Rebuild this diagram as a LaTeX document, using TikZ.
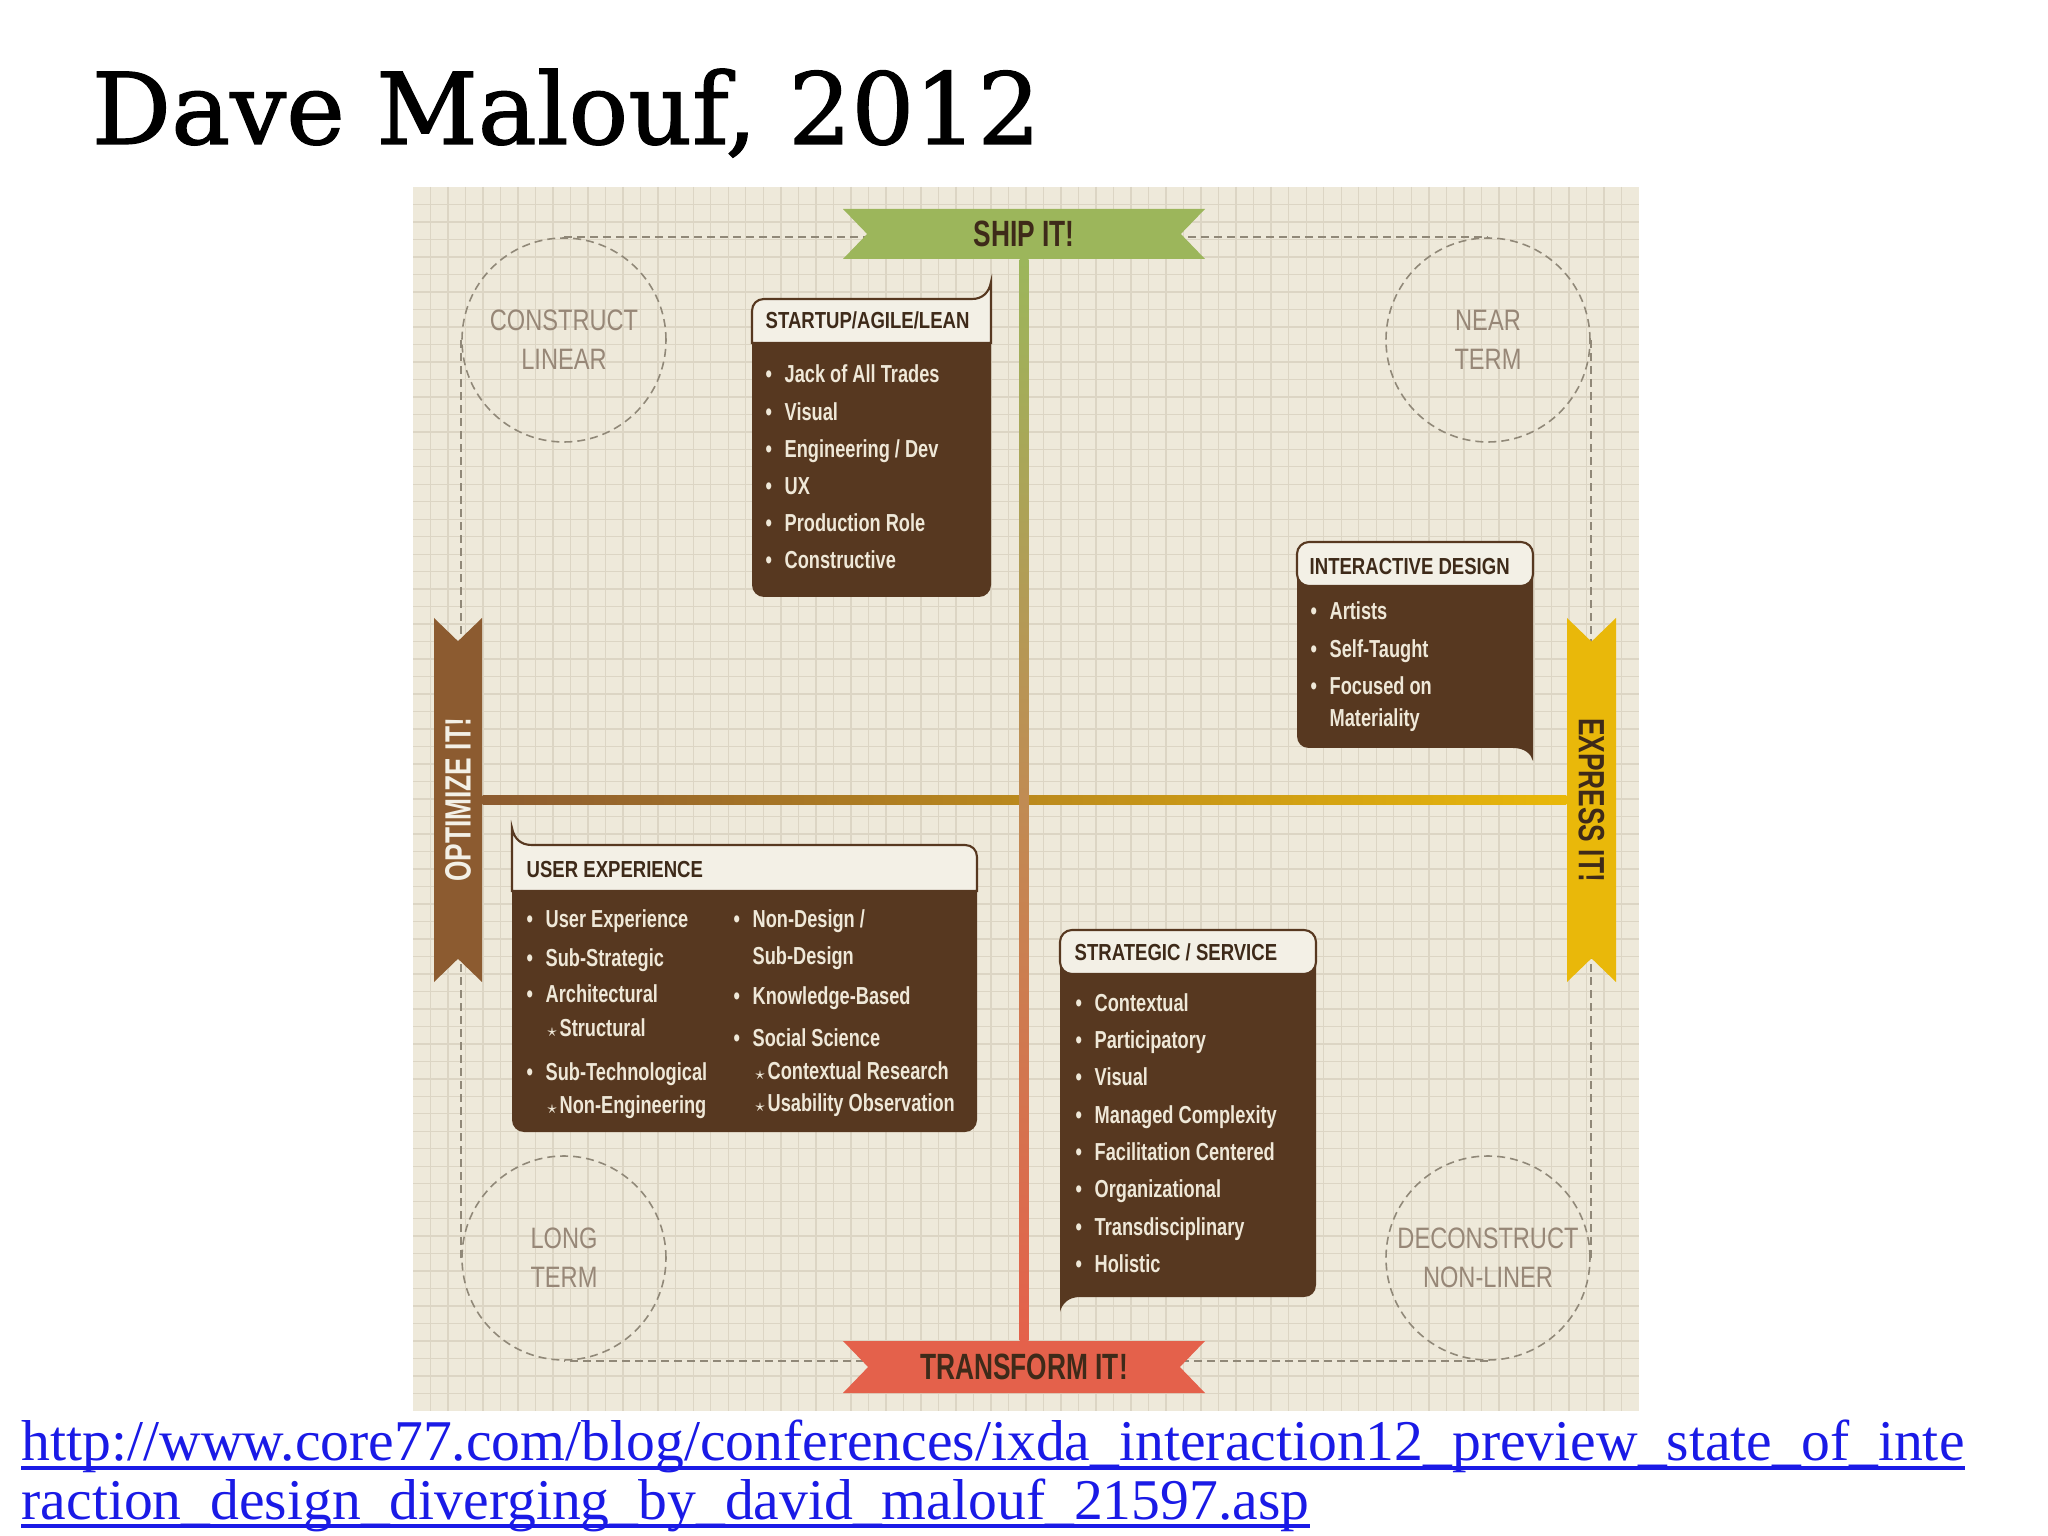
\documentclass[tikz,border=0pt]{standalone}
\usepackage{fontspec}
\setmainfont{Liberation Sans}
\newfontfamily\condfont[FakeStretch=0.8]{Liberation Sans}
\newfontfamily\itemfont[FakeStretch=0.74]{Liberation Sans}
\newfontfamily\bannerfont[FakeStretch=0.72]{Liberation Sans}
\newfontfamily\titlefont[FakeBold=1.2]{DejaVu Serif}
\newfontfamily\urlfont{Liberation Serif}
\usetikzlibrary{shapes.symbols,calc}

\definecolor{paper}{HTML}{EEE9DA}
\definecolor{gridc}{HTML}{DCD5C4}
\definecolor{shipgreen}{HTML}{9CB65B}
\definecolor{optbrown}{HTML}{8C5B30}
\definecolor{expyellow}{HTML}{E9B80A}
\definecolor{xformred}{HTML}{E4614B}
\definecolor{boxbrown}{HTML}{573820}
\definecolor{headcream}{HTML}{F3F0E6}
\definecolor{inkbrown}{HTML}{3E2A19}
\definecolor{ringtext}{HTML}{978777}
\definecolor{dashgrey}{HTML}{908878}
\definecolor{itemcream}{HTML}{EFE8D8}
\definecolor{urlblue}{HTML}{1A1AE6}

\newcommand\bl{\makebox[0.19cm][l]{\textbullet}}
\newcommand\st{\makebox[0.14cm][l]{$\scriptstyle\star$}}

\begin{document}
\begin{tikzpicture}[x=1cm, y=-1cm,
  gridline/.style={draw=gridc, line width=0.4pt},
  dashline/.style={draw=dashgrey, line width=0.45pt, dash pattern=on 0.08cm off 0.05cm},
  ring/.style={circle, dashline, minimum size=2.04cm, inner sep=0pt, align=center,
    text=ringtext, font=\condfont\fontsize{8.4}{11.1}\selectfont},
  banner/.style={signal, signal from=west and east, signal to=nowhere, signal pointer angle=92,
    inner sep=0pt, text=inkbrown, font=\bannerfont\bfseries\fontsize{10.4}{12}\selectfont},
  boxhead/.style={fill=headcream, draw=boxbrown, line width=0.6pt},
  headtext/.style={anchor=base west, inner sep=0pt, text=inkbrown,
    font=\condfont\bfseries\fontsize{6.6}{7}\selectfont},
  item/.style={anchor=base west, inner sep=0pt, text=itemcream,
    font=\itemfont\bfseries\fontsize{7}{8}\selectfont},
  link/.style={anchor=base west, inner sep=0pt, text=urlblue,
    font=\urlfont\fontsize{16.4}{18}\selectfont}]

  \fill[white] (0,0) rectangle (20.48,15.36);
  \useasboundingbox (0,0) rectangle (20.48,15.36);

  % paper with grid
  \fill[paper] (4.13,1.87) rectangle (16.39,14.11);
  \foreach \k in {1,...,69} {
    \draw[gridline] (4.13+0.17514*\k,1.87) -- (4.13+0.17514*\k,14.11);
    \draw[gridline] (4.13,1.87+0.17486*\k) -- (16.39,1.87+0.17486*\k);
  }

  % corner rings
  \node[ring] (cl) at (5.64,3.40) {CONSTRUCT\\LINEAR};
  \node[ring] (nt) at (14.88,3.40) {NEAR\\TERM};
  \node[ring] (lt) at (5.64,12.58) {LONG\\TERM};
  \node[ring] (dn) at (14.88,12.58) {DECONSTRUCT\\NON-LINER};
  \draw[dashline] (cl.north) -- (nt.north);
  \draw[dashline] (nt.east) -- (dn.east);
  \draw[dashline] (dn.south) -- (lt.south);
  \draw[dashline] (lt.west) -- (cl.west);

  % banners
  \node[banner, fill=shipgreen, minimum width=3.62cm, minimum height=0.50cm] (ship) at (10.24,2.34) {SHIP IT!};
  \node[banner, fill=xformred, minimum width=3.62cm, minimum height=0.52cm] (xform) at (10.24,13.67) {TRANSFORM IT!};
  \node[banner, fill=optbrown, text=headcream, rotate=90, minimum width=3.64cm, minimum height=0.48cm] (opt) at (4.58,8.00) {OPTIMIZE IT!};
  \node[banner, fill=expyellow, rotate=-90, minimum width=3.64cm, minimum height=0.49cm] (exp) at (15.915,8.00) {EXPRESS IT!};

  % axes
  \shade[left color=optbrown, middle color=black!15!expyellow!85!optbrown, right color=expyellow]
    ($(opt.south)+(0,-0.045)$) rectangle ($(exp.south)+(0,0.045)$);
  \shade[top color=shipgreen, middle color=black!5!orange!55!optbrown, bottom color=xformred]
    ($(ship.south)+(-0.045,0)$) rectangle ($(xform.north)+(0.045,0)$);

  % startup / agile / lean
  \fill[boxbrown, rounded corners=0.12cm] (7.52,3.30) rectangle (9.91,5.97);
  \draw[boxhead] (7.52,3.43) -- (7.52,3.11) .. controls (7.52,3.04) and (7.57,2.99) .. (7.64,2.99)
    -- (9.72,2.99) .. controls (9.82,2.99) and (9.89,2.93) .. (9.91,2.82) -- (9.91,3.43) -- cycle;
  \node[headtext] (sutitle) at (7.65,3.29) {STARTUP/AGILE/LEAN};
  \foreach \t [count=\i] in {Jack of All Trades, Visual, Engineering / Dev, UX, Production Role, Constructive}
    \node[item] (su\i) at (7.65,{3.83+0.372*(\i-1)}) {\bl\t};

  % interactive design
  \fill[boxbrown] (12.97,5.70) -- (12.97,7.36) .. controls (12.97,7.43) and (13.02,7.48) .. (13.09,7.48)
    -- (15.13,7.48) .. controls (15.25,7.48) and (15.31,7.54) .. (15.33,7.61) -- (15.33,5.70) -- cycle;
  \draw[boxhead, rounded corners=0.12cm] (12.97,5.42) rectangle (15.33,5.86);
  \node[headtext] (idtitle) at (13.09,5.74) {INTERACTIVE DESIGN};
  \node[item] (id1) at (13.10,6.20) {\bl Artists};
  \node[item] (id2) at (13.10,6.57) {\bl Self-Taught};
  \node[item] (id3) at (13.10,6.95) {\bl Focused on};
  \node[item] (id4) at (13.29,7.26) {Materiality};

  % user experience
  \fill[boxbrown, rounded corners=0.12cm] (5.12,8.75) rectangle (9.77,11.32);
  \draw[boxhead] (5.12,8.91) -- (5.12,8.28) .. controls (5.14,8.38) and (5.20,8.45) .. (5.32,8.45)
    -- (9.65,8.45) .. controls (9.72,8.45) and (9.77,8.50) .. (9.77,8.57) -- (9.77,8.91) -- cycle;
  \node[headtext] (uxtitle) at (5.26,8.77) {USER EXPERIENCE};
  \node[item] (ux1) at (5.26,9.28) {\bl User Experience};
  \node[item] (ux2) at (5.26,9.66) {\bl Sub-Strategic};
  \node[item] (ux3) at (5.26,10.03) {\bl Architectural};
  \node[item] (ux4) at (5.45,10.37) {\st Structural};
  \node[item] (ux5) at (5.26,10.80) {\bl Sub-Technological};
  \node[item] (ux6) at (5.45,11.13) {\st Non-Engineering};
  \node[item] (ux7) at (7.33,9.28) {\bl Non-Design /};
  \node[item] (ux8) at (7.52,9.64) {Sub-Design};
  \node[item] (ux9) at (7.33,10.04) {\bl Knowledge-Based};
  \node[item] (ux10) at (7.33,10.46) {\bl Social Science};
  \node[item] (ux11) at (7.53,10.79) {\st Contextual Research};
  \node[item] (ux12) at (7.53,11.11) {\st Usability Observation};

  % strategic / service
  \fill[boxbrown] (10.60,9.55) -- (10.60,13.12) .. controls (10.62,13.04) and (10.68,12.97) .. (10.80,12.97)
    -- (13.04,12.97) .. controls (13.11,12.97) and (13.16,12.92) .. (13.16,12.85) -- (13.16,9.55) -- cycle;
  \draw[boxhead, rounded corners=0.12cm] (10.60,9.30) rectangle (13.16,9.74);
  \node[headtext] (sstitle) at (10.74,9.60) {STRATEGIC / SERVICE};
  \foreach \t [count=\i] in {Contextual, Participatory, Visual, Managed Complexity, Facilitation Centered,
      Organizational, Transdisciplinary, Holistic}
    \node[item] (ss\i) at (10.75,{10.11+0.374*(\i-1)}) {\bl\t};

  % slide title and link
  \node[anchor=base west, inner sep=0pt, font=\titlefont\fontsize{28.2}{30}\selectfont] (title) at (0.91,1.44) {Dave Malouf, 2012};
  \node[link] (url1) at (0.21,14.60) {http://www.core77.com/blog/conferences/ixda\_interaction12\_preview\_state\_of\_inte};
  \node[link] (url2) at (0.21,15.19) {raction\_design\_diverging\_by\_david\_malouf\_21597.asp};
  \draw[urlblue, line width=0.9pt] ($(url1.base west)+(0,0.08)$) -- ($(url1.base east)+(0,0.08)$);
  \draw[urlblue, line width=0.9pt] ($(url2.base west)+(0,0.07)$) -- ($(url2.base east)+(0,0.07)$);
\end{tikzpicture}
\end{document}
